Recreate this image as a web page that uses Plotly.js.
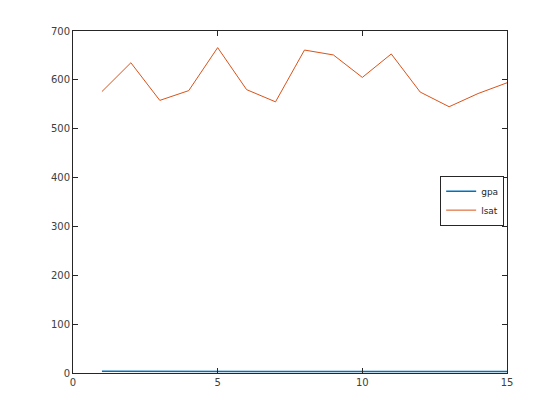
<!DOCTYPE html>
<html><head><meta charset="utf-8">
<script src="https://cdn.plot.ly/plotly-3.0.1.min.js"></script>
<style>body{margin:0;background:#fff}#c{width:560px;height:420px}</style>
</head><body><div id="c"></div>
<script>
var school = [1,2,3,4,5,6,7,8,9,10,11,12,13,14,15];
var gpa = [3.39,3.30,2.81,3.03,3.44,3.07,3.00,3.43,3.36,3.13,3.12,2.74,2.76,2.88,2.96];
var lsat = [576,635,558,578,666,580,555,661,651,605,653,575,545,572,594];
var xTicks = [0,5,10,15];
var yTicks = [0,100,200,300,400,500,600,700];

var traces = [
  {x: school, y: gpa, name: 'gpa', type: 'scatter', mode: 'lines', line: {color: '#0072BD', width: 1.5}},
  {x: school, y: lsat, name: 'lsat', type: 'scatter', mode: 'lines', line: {color: '#D95319', width: 1}}
];
var ax = {
  showgrid: false, zeroline: false, showline: true, linecolor: '#262626', linewidth: 1,
  mirror: 'ticks', ticks: 'inside', ticklen: 5, tickcolor: '#262626',
  tickfont: {family: 'DejaVu Sans', size: 10, color: '#404040'}
};
var layout = {
  width: 560, height: 420, paper_bgcolor: '#fff', plot_bgcolor: '#fff',
  margin: {l: 73, r: 53, t: 31, b: 47},
  xaxis: Object.assign({}, ax, {range: [0, 15], tickvals: xTicks}),
  yaxis: Object.assign({}, ax, {range: [0, 700], tickvals: yTicks}),
  showlegend: true,
  legend: {x: 0.846, y: 0.504, xanchor: 'left', yanchor: 'middle', bordercolor: '#262626', borderwidth: 1,
    bgcolor: '#fff', font: {family: 'DejaVu Sans', size: 9, color: '#262626'}, tracegroupgap: 0, itemwidth: 30}
};
Plotly.newPlot('c', traces, layout, {displayModeBar: false, staticPlot: true});
</script></body></html>
